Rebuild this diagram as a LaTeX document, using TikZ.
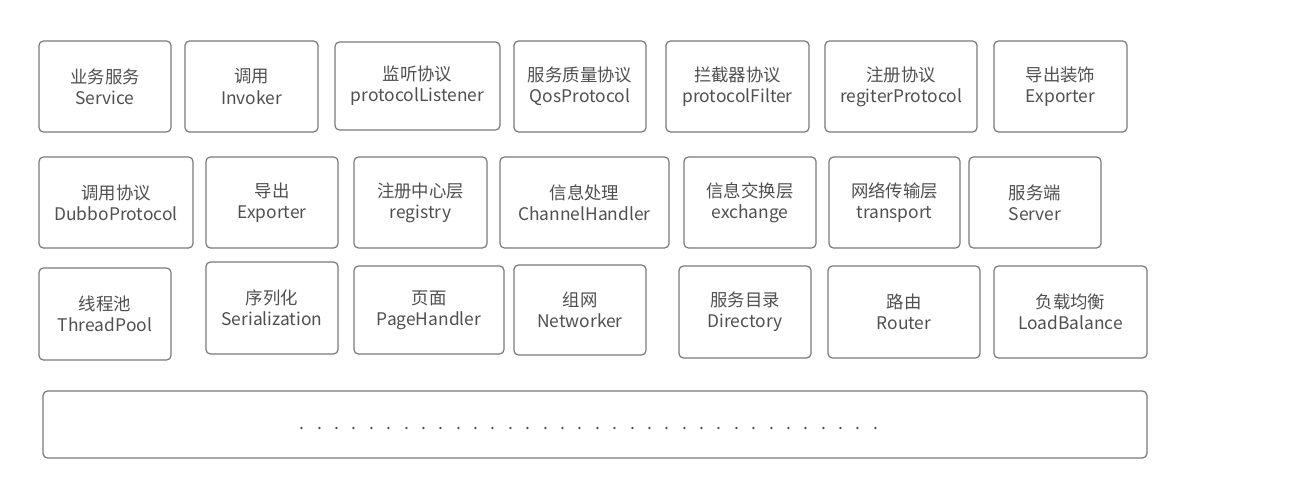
\documentclass[tikz,border=0pt]{standalone}
\usepackage{fontspec}
\setmainfont{Noto Sans CJK SC}
\usepackage{xcolor}
\usepackage{tikz}
\usetikzlibrary{positioning}

\definecolor{boxline}{HTML}{7A7A7A}
\definecolor{boxtext}{HTML}{505050}

\tikzset{
    layer/.style={draw=boxline, line width=0.7pt, rounded corners=2.5pt, fill=white,
        text=boxtext, align=center, inner sep=0pt,
        font=\fontsize{9.9}{12}\selectfont},
    dotrow/.style={text=boxtext, inner sep=0pt, font=\fontsize{10}{11}\selectfont}
}

\begin{document}
\begin{tikzpicture}[x=0.02cm, y=-0.02cm]
    \useasboundingbox (0,0) rectangle (1294,499);

    % first row
    \node[layer, minimum width=2.64cm, minimum height=1.82cm] at (105, 86.5)   (service)  {业务服务\\Service};
    \node[layer, minimum width=2.66cm, minimum height=1.82cm] at (251.5, 86.5) (invoker)  {调用\\Invoker};
    \node[layer, minimum width=3.30cm, minimum height=1.76cm] at (417.5, 86)   (listener) {监听协议\\protocolListener};
    \node[layer, minimum width=2.64cm, minimum height=1.82cm] at (580, 86.5)   (qos)      {服务质量协议\\QosProtocol};
    \node[layer, minimum width=2.86cm, minimum height=1.82cm] at (737.5, 86.5) (filter)   {拦截器协议\\protocolFilter};
    \node[layer, minimum width=3.04cm, minimum height=1.82cm] at (901, 86.5)   (regproto) {注册协议\\regiterProtocol};
    \node[layer, minimum width=2.66cm, minimum height=1.82cm] at (1060.5, 86.5) (expdeco) {导出装饰\\Exporter};

    % second row
    \node[layer, minimum width=3.08cm, minimum height=1.82cm] at (116, 202.5)   (dubbo)    {调用协议\\DubboProtocol};
    \node[layer, minimum width=2.64cm, minimum height=1.82cm] at (272, 202.5)   (exporter) {导出\\Exporter};
    \node[layer, minimum width=2.66cm, minimum height=1.82cm] at (420.5, 202.5) (registry) {注册中心层\\registry};
    \node[layer, minimum width=3.38cm, minimum height=1.82cm] at (584.5, 202.5) (channel)  {信息处理\\ChannelHandler};
    \node[layer, minimum width=2.64cm, minimum height=1.82cm] at (750, 202.5)   (exchange) {信息交换层\\exchange};
    \node[layer, minimum width=2.62cm, minimum height=1.82cm] at (894.5, 202.5) (transport) {网络传输层\\transport};
    \node[layer, minimum width=2.64cm, minimum height=1.82cm] at (1035, 202.5)  (server)   {服务端\\Server};

    % third row
    \node[layer, minimum width=2.64cm, minimum height=1.84cm] at (105, 314)    (pool)     {线程池\\ThreadPool};
    \node[layer, minimum width=2.64cm, minimum height=1.84cm] at (272, 308)    (serial)   {序列化\\Serialization};
    \node[layer, minimum width=3.00cm, minimum height=1.76cm] at (429, 310)    (page)     {页面\\PageHandler};
    \node[layer, minimum width=2.64cm, minimum height=1.80cm] at (580, 310)    (network)  {组网\\Networker};
    \node[layer, minimum width=2.64cm, minimum height=1.84cm] at (745, 312)    (directory) {服务目录\\Directory};
    \node[layer, minimum width=3.04cm, minimum height=1.84cm] at (904, 312)    (router)   {路由\\Router};
    \node[layer, minimum width=3.06cm, minimum height=1.84cm] at (1070.5, 312) (balance)  {负载均衡\\LoadBalance};

    % the rest
    \node[layer, minimum width=22.08cm, minimum height=1.34cm] at (595, 424.5) (more) {};
    \node[dotrow] at (589, 429) (moredots) {\foreach \k in {1,...,33}{.\hspace{0.25cm}}.};
\end{tikzpicture}
\end{document}
